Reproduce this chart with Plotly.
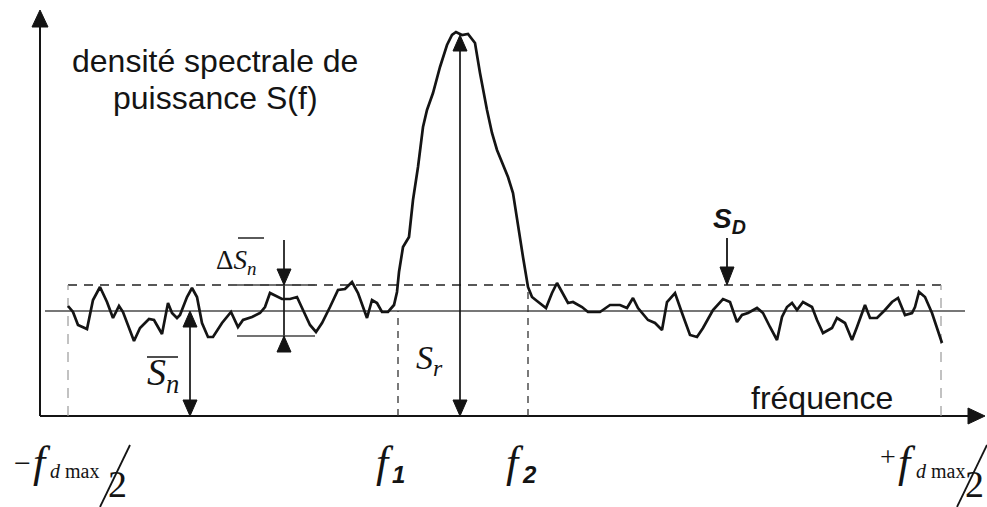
import plotly.graph_objects as go

# Frequency markers (arbitrary frequency units)
F_LO, F_HI = -436, 437      # -f_dmax/2 and +f_dmax/2
F1, F2 = -106, 24           # band edges where the spectrum crosses S_D
F_AXIS = -464               # position of the vertical (PSD) axis
F_PEAK = -44                # where S_r is measured
F_SN = -314                 # where the mean noise level is marked
F_DSN = -220                # where the noise fluctuation is marked
F_SD = 223                  # where the threshold is marked

# Levels (arbitrary PSD units)
S_N_MEAN = 105              # mean noise level
S_D = 131                   # detection threshold
S_N_LOW = 80                # lower bound of the noise fluctuation
S_R = 381                   # height of the signal peak

# Measured spectrum, three pieces
noise_left_f = [-436, -431, -426, -417, -411, -404, -397, -391, -385, -381,
                -370, -364, -355, -350, -342, -336, -332, -327, -324, -317,
                -312, -307, -302, -296, -291, -282, -273, -266, -261, -252,
                -244, -239, -234, -227, -222, -214, -207, -201, -194, -188,
                -182, -174, -166, -159, -152, -146, -137, -132, -127, -122,
                -116, -110]
noise_left_s = [110, 104, 91, 87, 116, 129, 114, 98, 110, 104,
                75, 88, 97, 96, 82, 113, 103, 98, 101, 119,
                128, 119, 93, 79, 79, 93, 104, 89, 96, 99,
                103, 109, 123, 119, 117, 117, 119, 106, 91, 84,
                93, 109, 126, 127, 134, 123, 98, 116, 113, 104,
                104, 111]
peak_f = [-107, -105, -101, -95, -91, -86, -81, -77, -71, -64,
          -57, -52, -48, -42, -36, -29, -24, -17, -12, -7,
          4, 9, 14, 19, 24]
peak_s = [124, 144, 169, 179, 216, 249, 289, 306, 323, 349,
          371, 381, 384, 381, 382, 373, 343, 306, 283, 266,
          239, 223, 189, 159, 129]
noise_right_f = [28, 33, 42, 48, 53, 58, 64, 69, 78, 84,
                 96, 106, 116, 123, 129, 134, 144, 151, 158, 163,
                 171, 178, 186, 193, 199, 209, 219, 226, 233, 238,
                 244, 253, 259, 266, 273, 278, 283, 288, 293, 299,
                 308, 313, 319, 328, 333, 341, 348, 353, 361, 366,
                 373, 381, 388, 394, 401, 408, 411, 415, 421, 428,
                 438]
noise_right_s = [119, 115, 108, 123, 133, 124, 113, 114, 109, 104,
                 104, 111, 111, 108, 118, 108, 96, 93, 86, 114,
                 123, 103, 81, 79, 88, 106, 117, 114, 94, 101,
                 103, 108, 103, 89, 76, 99, 109, 113, 106, 114,
                 109, 96, 83, 88, 98, 93, 76, 89, 111, 98,
                 98, 106, 114, 118, 101, 103, 109, 124, 119, 103,
                 73]

freq = noise_left_f + peak_f + noise_right_f
psd = noise_left_s + peak_s + noise_right_s

INK = "#141414"
SANS = "Liberation Sans, Arial, sans-serif"
SERIF = "Liberation Serif, Times New Roman, serif"

fig = go.Figure()
fig.add_trace(go.Scatter(x=freq, y=psd, mode="lines",
                         line=dict(color=INK, width=2.7),
                         hoverinfo="skip", showlegend=False))

shapes = []


def seg(x0, y0, x1, y1, color=INK, width=1.6, dash="solid"):
    shapes.append(dict(type="line", xref="x", yref="y", x0=x0, y0=y0,
                       x1=x1, y1=y1, layer="below",
                       line=dict(color=color, width=width, dash=dash)))


def head(x, y, direction, length=16, half=7):
    if direction == "up":
        pts = [(x, y), (x - half, y - length), (x + half, y - length)]
    elif direction == "down":
        pts = [(x, y), (x - half, y + length), (x + half, y + length)]
    else:  # right
        pts = [(x, y), (x - length, y - half), (x - length, y + half)]
    path = "M {},{} L {},{} L {},{} Z".format(*[v for p in pts for v in p])
    shapes.append(dict(type="path", xref="x", yref="y", path=path,
                       fillcolor=INK, line=dict(color=INK, width=1)))


# axes
seg(F_AXIS, 0, F_AXIS, 392, width=2)
head(F_AXIS, 406, "up", length=17, half=8)
seg(F_AXIS, 0, 466, 0, width=2)
head(481, 0, "right", length=17, half=8)

# mean noise level and detection threshold
seg(-459, S_N_MEAN, 461, S_N_MEAN, color="#4a4a4a", width=1.6)
seg(F_LO, S_D, 439, S_D, color="#222222", width=1.5, dash="9px,7px")
seg(F_LO, 0, F_LO, S_D, color="#9a9a9a", width=1.2, dash="10px,8px")
seg(F_HI, 0, F_HI, S_D, color="#9a9a9a", width=1.2, dash="10px,8px")

# band edges
seg(F1, 0, F1, S_N_MEAN, color="#333333", width=1.3, dash="7px,6px")
seg(F2, 0, F2, S_D - 2, color="#333333", width=1.3, dash="7px,6px")

# S_r
seg(F_PEAK, 12, F_PEAK, S_R - 12, width=1.7)
head(F_PEAK, S_R, "up")
head(F_PEAK, 0, "down")

# mean noise level S_n
seg(F_SN, 12, F_SN, S_N_MEAN - 12, width=1.7)
head(F_SN, S_N_MEAN, "up")
head(F_SN, 0, "down")

# noise fluctuation delta S_n
seg(F_DSN, S_N_LOW - 12, F_DSN, S_D + 45, width=1.7)
head(F_DSN, S_D, "down")
head(F_DSN, S_N_LOW, "up")
seg(F_DSN - 47, S_D, F_DSN + 31, S_D, color="#444444", width=1.5)
seg(F_DSN - 47, S_N_LOW, F_DSN + 31, S_N_LOW, color="#444444", width=1.5)

# threshold S_D
seg(F_SD, S_D + 10, F_SD, S_D + 47, width=1.8)
head(F_SD, S_D, "down", length=18, half=7)

# overlines of the mean-noise symbols
seg(-357, 59, -326, 59, width=1.5)
seg(-266, 178, -240, 178, width=1.4)

# slashes of f_dmax/2
seg(-374, -29, -404, -91, width=1.8)
seg(483, -29, 453, -91, width=1.8)

annotations = []


def label(text, x, y, size, family, xanchor="center", yanchor="middle"):
    annotations.append(dict(text=text, x=x, y=y, xref="x", yref="y",
                            showarrow=False, xanchor=xanchor,
                            yanchor=yanchor,
                            font=dict(size=size, family=family, color=INK)))


label("densité spectrale de", -289, 355, 32, SANS)
label("puissance S(f)", -289, 318, 32, SANS)
label("fréquence", 318, 18, 32, SANS)
label("<b><i>S</i></b><sub><b><i>D</i></b></sub>", F_SD + 2, 196, 28, SANS)
label("Δ<i>S</i><sub><i>n</i></sub>", -268, 154, 27, SERIF)
label("<i>S</i><sub><i>n</i></sub>", -341, 41, 38, SERIF)
label("<i>S</i><sub><i>r</i></sub>", -75, 56, 34, SERIF)

# labels under the frequency axis
label("−", -482, -46, 30, SERIF)
label("<i>f</i>", -462, -46, 44, SERIF)
label("<i>d</i> max", -430, -55, 20, SERIF)
label("2", -387, -91, 38, SERIF, yanchor="bottom")

label("<i>f</i>", F1 - 13, -46, 44, SERIF)
label("<b><i>1</i></b>", F1, -58, 24, SANS)
label("<i>f</i>", F2 - 13, -46, 44, SERIF)
label("<b><i>2</i></b>", F2 + 1, -58, 24, SANS)

label("+", 384, -40, 28, SERIF)
label("<i>f</i>", 403, -46, 44, SERIF)
label("<i>d</i> max", 436, -55, 20, SERIF)
label("2", 470, -91, 38, SERIF, yanchor="bottom")

fig.update_layout(
    width=987, height=507,
    margin=dict(l=0, r=0, t=0, b=0),
    paper_bgcolor="white", plot_bgcolor="white",
    xaxis=dict(range=[-504, 483], visible=False, fixedrange=True),
    yaxis=dict(range=[-91, 416], visible=False, fixedrange=True),
    shapes=shapes, annotations=annotations,
    showlegend=False,
)

fig.write_html("out.html", config={"displayModeBar": False})
